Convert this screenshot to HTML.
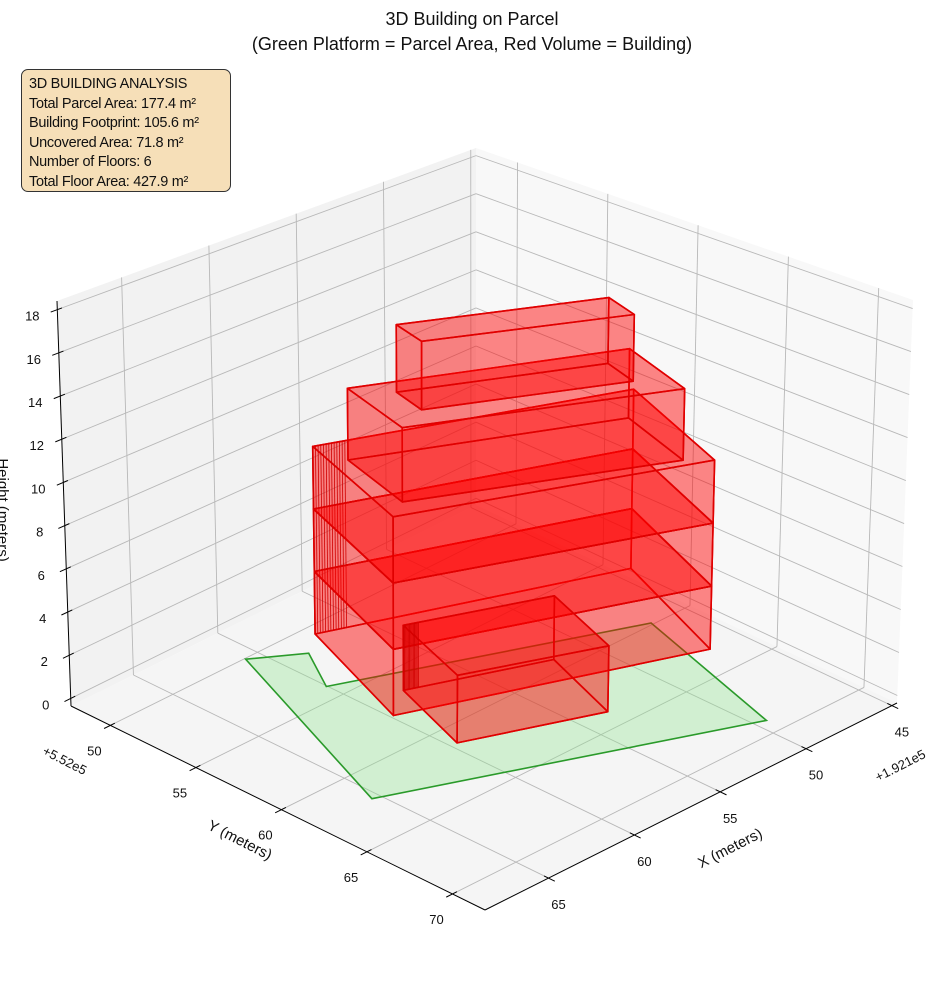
<!DOCTYPE html>
<html><head><meta charset="utf-8"><style>
body{margin:0;background:#fff;}
svg{display:block;font-family:"Liberation Sans","DejaVu Sans",sans-serif;}
#info{position:absolute;left:21px;top:69px;width:201px;height:116px;padding:5px 0 0 7px;background:#f6dfb8;border:1px solid #333;border-radius:7px;font:14.5px/19.6px "Liberation Sans",sans-serif;color:#111;letter-spacing:-0.3px;}
</style></head><body>
<div style="position:relative;width:944px;height:992px;overflow:hidden">
<svg id="chart" width="944" height="992" viewBox="0 0 944 992">
<text x="472" y="25" font-size="18" text-anchor="middle" fill="#111">3D Building on Parcel</text>
<text x="472" y="50" font-size="18" text-anchor="middle" fill="#111">(Green Platform = Parcel Area, Red Volume = Building)</text>
<g id="panes"></g>
<g id="grid"></g>
<g id="axes"></g>
<g id="marks"></g>
<text x="240" y="845" font-size="15" text-anchor="middle" transform="rotate(27 240 840)" fill="#111">Y (meters)</text>
<text x="730" y="853" font-size="15" text-anchor="middle" transform="rotate(-27 730 848)" fill="#111">X (meters)</text>
<text x="3" y="515" font-size="15" text-anchor="middle" transform="rotate(90 3 510)" fill="#111">Height (meters)</text>
<text x="65" y="765" font-size="13" text-anchor="middle" transform="rotate(27 65 760)" fill="#111">+5.52e5</text>
<text x="900" y="770" font-size="13" text-anchor="middle" transform="rotate(-27 900 765)" fill="#111">+1.921e5</text>
</svg>
<div id="info">3D BUILDING ANALYSIS<br>Total Parcel Area: 177.4 m²<br>Building Footprint: 105.6 m²<br>Uncovered Area: 71.8 m²<br>Number of Floors: 6<br>Total Floor Area: 427.9 m²</div>
</div>
<script>
const xTicks=[45,50,55,60,65];
const yTicks=[50,55,60,65,70];
const zTicks=[0,2,4,6,8,10,12,14,16,18];
const xRange=[44.7,68.7];
const yRange=[47.7,71.9];
const zRange=[-0.35,18.4];
const parcel=[[61.2,50.5],[59.0,52.0],[60.5,54.5],[47.3,60.3],[49.9,69.5],[65.9,62.5]];
const bigFootprint=[[57.65,51.05],[60.3,58.2],[47.2,63.6],[44.55,56.45]];
const midFootprint=[[57.6,53.0],[59.0,57.45],[48.1,62.7],[46.7,58.25]];
const topFootprint=[[56.2,54.4],[56.8,56.4],[48.7,60.4],[48.1,58.4]];
const frontFootprint=[[58.5,57.0],[60.1,61.7],[53.9,64.3],[52.3,59.6]];
const boxBases=[0,3,6,0,9,12.2];
const boxTops=[3,6,9,3,12.4,15.4];
const boxHatch=[1,1,1,1,0,0];
const boxNames=['floor-1','floor-2','floor-3','front-wing','floor-4','floor-5'];
const footprints=[bigFootprint,bigFootprint,bigFootprint,frontFootprint,midFootprint,topFootprint];

const NS='http://www.w3.org/2000/svg';
const FB={B:[476,505],L:[71,706],R:[897,703],F:[485,910]};
const TP={B:[476,148],L:[57,301],R:[913,300],F:[492,438]};
function bil(c,u,v){return [c.B[0]*(1-u)*(1-v)+c.L[0]*u*(1-v)+c.R[0]*(1-u)*v+c.F[0]*u*v, c.B[1]*(1-u)*(1-v)+c.L[1]*u*(1-v)+c.R[1]*(1-u)*v+c.F[1]*u*v];}
function P(x,y,z){const u=(x-xRange[0])/(xRange[1]-xRange[0]),v=(y-yRange[0])/(yRange[1]-yRange[0]),w=(z-zRange[0])/(zRange[1]-zRange[0]);const a=bil(FB,u,v),b=bil(TP,u,v);return [a[0]+(b[0]-a[0])*w,a[1]+(b[1]-a[1])*w];}
function mk(tag,attrs,parent){const e=document.createElementNS(NS,tag);for(const k in attrs)e.setAttribute(k,attrs[k]);parent.appendChild(e);return e;}
function pts(a){return a.map(p=>p[0].toFixed(1)+','+p[1].toFixed(1)).join(' ');}
const [x0,x1]=xRange,[y0,y1]=yRange,[z0,z1]=zRange;
const panes=document.getElementById('panes'),grid=document.getElementById('grid'),axes=document.getElementById('axes'),marks=document.getElementById('marks');
let e;
e=mk('polygon',{points:pts([P(x0,y0,z0),P(x1,y0,z0),P(x1,y0,z1),P(x0,y0,z1)]),fill:'#f2f2f2'},panes);

e=mk('polygon',{points:pts([P(x0,y0,z0),P(x0,y1,z0),P(x0,y1,z1),P(x0,y0,z1)]),fill:'#f8f8f8'},panes);

e=mk('polygon',{points:pts([P(x0,y0,z0),P(x1,y0,z0),P(x1,y1,z0),P(x0,y1,z0)]),fill:'#f5f5f5'},panes);

function gl(a,b,name){const l=mk('line',{x1:a[0],y1:a[1],x2:b[0],y2:b[1],stroke:'#b8b8b8','stroke-width':0.9},grid);}
xTicks.forEach(x=>{gl(P(x,y0,z0),P(x,y1,z0),'grid-floor-x');gl(P(x,y0,z0),P(x,y0,z1),'grid-wall-x');});
yTicks.forEach(y=>{gl(P(x0,y,z0),P(x1,y,z0),'grid-floor-y');gl(P(x0,y,z0),P(x0,y,z1),'grid-wall-y');});
zTicks.forEach(z=>{gl(P(x0,y0,z),P(x1,y0,z),'grid-wall-z');gl(P(x0,y0,z),P(x0,y1,z),'grid-wall-z');});
function al(a,b,name){const l=mk('line',{x1:a[0],y1:a[1],x2:b[0],y2:b[1],stroke:'#000','stroke-width':1},axes);}
al(P(x1,y0,z0),P(x1,y0,z1),'z-axis-line');
al(P(x1,y0,z0),P(x1,y1,z0),'y-axis-line');
al(P(x1,y1,z0),P(x0,y1,z0),'x-axis-line');
function tick(p,q,lab,off,name){const dx=q[0]-p[0],dy=q[1]-p[1],n=Math.hypot(dx,dy),ux=dx/n,uy=dy/n;al([p[0]-7*ux,p[1]-7*uy],[p[0]+5*ux,p[1]+5*uy],name+'-tick');
const t=mk('text',{x:p[0]+off[0],y:p[1]+off[1]+5,'font-size':13,'text-anchor':'middle',fill:'#111'},axes);t.textContent=lab;}
xTicks.forEach(x=>tick(P(x,y1,z0),P(x,y0,z0),String(x),[10,26],'x'));
yTicks.forEach(y=>tick(P(x1,y,z0),P(x0,y,z0),String(y),[-16,25],'y'));
zTicks.forEach(z=>tick(P(x1,y0,z),P(x0,y0,z),String(z),[-25,6],'z'));
e=mk('polygon',{points:pts(parcel.map(p=>P(p[0],p[1],0))),fill:'rgba(144,230,144,0.35)',stroke:'#2a9a2a','stroke-width':1.6},marks);

function box(fp,zb,zt,hatch,name){const g=mk('g',{},marks);
const bot=fp.map(p=>P(p[0],p[1],zb)),top=fp.map(p=>P(p[0],p[1],zt));
const faces=[bot];for(let i=0;i<4;i++){const j=(i+1)%4;faces.push([bot[i],bot[j],top[j],top[i]]);}faces.push(top);
faces.forEach(f=>{const pf=mk('polygon',{points:pts(f),fill:'rgba(255,0,0,0.27)',stroke:'#e00000','stroke-width':1.6,'stroke-linejoin':'round'},g);});
if(!hatch)return;
const a=fp[0],b=fp[3];for(let k=0;k<=12;k++){const t=k/12*0.1,x=a[0]+(b[0]-a[0])*t,y=a[1]+(b[1]-a[1])*t;const p=P(x,y,zb),q=P(x,y,zt);const l=mk('line',{x1:p[0],y1:p[1],x2:q[0],y2:q[1],stroke:'#d00000','stroke-width':0.8},g);}}
footprints.forEach((fp,i)=>box(fp,boxBases[i],boxTops[i],boxHatch[i],boxNames[i]));
</script>
</body></html>
